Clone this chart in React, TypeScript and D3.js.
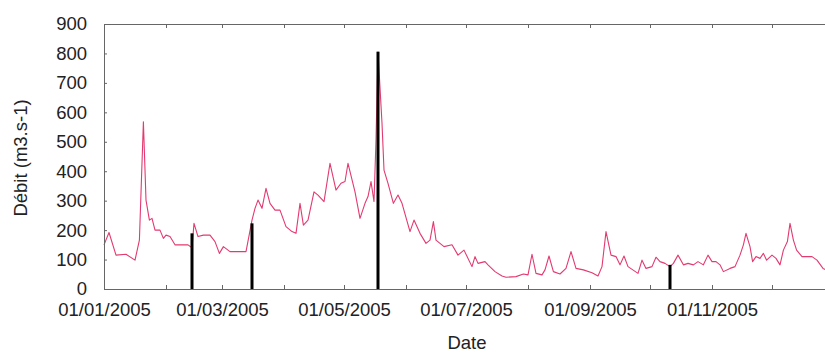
import { useEffect, useRef } from "react";
import * as d3 from "d3";

// day of year (0 = 1 Jan 2005) and daily discharge
const flowDay = [
  0, 2.5, 6, 11, 15.5, 17.7, 19.7, 21, 22.7, 24, 25.5, 28, 29.7, 31, 33, 35.5, 42, 44, 45, 47,
  49.7, 53, 55.5, 57.7, 59.7, 63, 71, 74, 75.5, 77, 79, 81, 83, 85.5, 88, 91, 94, 96, 98, 99.7,
  102, 105, 107, 110, 113, 116, 118.5, 120.5, 122, 125.5, 128, 130.5, 132, 133.5, 135, 136, 137,
  139, 140, 142, 144.7, 147, 149, 153, 155, 158, 161, 163, 164.7, 166, 170, 174, 177, 180, 184,
  185.5, 187, 190.5, 192, 195.5, 199, 201, 206, 209.7, 212, 214, 216, 219, 220.5, 222.5, 224.7,
  228, 231, 233.5, 236, 239.7, 244, 247, 249, 251, 253.5, 256, 258, 260, 262, 267, 269, 271, 274,
  276, 278, 280.5, 283, 284.7, 287, 289.7, 292, 294.7, 297, 299.7, 302, 304, 306, 308, 309.7, 313,
  315.5, 318, 319.7, 321, 323, 324.3, 326, 328, 329.7, 331.3, 334, 336, 338, 339.7, 341.7, 343,
  344.7, 346.3, 349, 354, 356.5, 359.5, 364,
];
const flowValue = [
  150, 192, 115, 118, 98, 166, 568, 302, 234, 240, 200, 200, 172, 183, 178, 150, 150, 140, 223, 178,
  183, 183, 161, 121, 144, 127, 127, 234, 274, 302, 274, 342, 291, 268, 268, 212, 195, 189, 291, 217,
  234, 330, 319, 297, 427, 336, 359, 365, 427, 330, 240, 291, 314, 365, 297, 506, 805,
  563, 404, 359, 291, 319, 291, 195, 234, 189, 155, 166, 229, 166, 144, 150, 115, 132, 76,
  110, 87, 93, 82, 59, 44, 40, 42, 51, 48, 118, 53, 48, 65, 112, 59,
  51, 70, 127, 70, 65, 55, 44, 76, 195, 115, 110, 82, 112, 76, 53, 98, 70, 76,
  108, 93, 87, 76, 87, 115, 82, 87, 82, 93, 82, 115, 93, 93, 82, 59, 70,
  76, 115, 150, 189, 144, 93, 110, 104, 121, 98, 115, 104, 82, 132, 161, 223,
  166, 132, 110, 110, 98, 70, 55,
];

// black vertical bars
const barDates = ["14/02/2005", "16/03/2005", "18/05/2005", "11/10/2005"];
const barValues = [189, 223, 806, 82];

const xTickLabels = ["01/01/2005", "01/03/2005", "01/05/2005", "01/07/2005", "01/09/2005", "01/11/2005"];
const yTicks = [0, 100, 200, 300, 400, 500, 600, 700, 800, 900];

const width = 825;
const height = 352;
const marginLeft = 104;
const marginTop = 24;
const plotBottom = 289;
const font = "'Liberation Sans', Arial, sans-serif";

const parse = d3.timeParse("%d/%m/%Y");
const start = new Date(2005, 0, 1);

export default function App() {
  const gx = useRef<SVGGElement>(null);
  const gt = useRef<SVGGElement>(null);
  const gy = useRef<SVGGElement>(null);

  const x = d3.scaleTime().domain([start, new Date(2006, 0, 1)]).range([marginLeft, marginLeft + 730]);
  const y = d3.scaleLinear().domain([0, 900]).range([plotBottom, marginTop]);

  const points = flowDay.map((d, i) => ({ date: new Date(start.getTime() + d * 86400000), v: flowValue[i] }));
  const line = d3.line<{ date: Date; v: number }>().x((d) => x(d.date)).y((d) => y(d.v));

  const months = d3.timeMonth.range(start, new Date(2006, 0, 1));
  const fmt = d3.timeFormat("%d/%m/%Y");

  useEffect(() => {
    const style = (g: d3.Selection<SVGGElement, unknown, null, undefined>) => {
      g.attr("font-family", font).attr("font-size", 18.5);
      g.selectAll("text").attr("fill", "#222");
      g.selectAll("line, path").attr("stroke", "#666");
    };
    d3.select(gx.current!)
      .call(
        d3.axisBottom(x).tickValues(months).tickSizeInner(-4).tickSizeOuter(0).tickPadding(14)
          .tickFormat((d) => (xTickLabels.includes(fmt(d as Date)) ? fmt(d as Date) : ""))
      )
      .call(style);
    d3.select(gt.current!)
      .call(d3.axisTop(x).tickValues(months).tickSizeInner(-4).tickSizeOuter(0).tickFormat(() => ""))
      .call(style);
    d3.select(gy.current!)
      .call(d3.axisLeft(y).tickValues(yTicks).tickSizeInner(-3).tickSizeOuter(0).tickPadding(17))
      .call(style);
  }, []);

  return (
    <svg width={width} height={height} style={{ position: "absolute", left: 0, top: 0, background: "#fff" }}>
      <path fill="none" stroke="#e33a70" strokeWidth={1.1} strokeLinejoin="round" d={line(points) ?? ""} />
      <g fill="#000">
        {barDates.map((d, i) => (
          <rect key={d} x={x(parse(d)!) - 1.5} width={3} y={y(barValues[i])} height={y(0) - y(barValues[i])} />
        ))}
      </g>
      <g ref={gx} transform={`translate(0,${plotBottom})`} />
      <g ref={gt} transform={`translate(0,${marginTop})`} />
      <g ref={gy} transform={`translate(${marginLeft},0)`} />
      <text x={467} y={349} textAnchor="middle" fontFamily={font} fontSize={18.5} fill="#222">Date</text>
      <text transform={`translate(27,158) rotate(-90)`} textAnchor="middle" fontFamily={font} fontSize={18.5} fill="#222">
        Débit (m3.s-1)
      </text>
    </svg>
  );
}
